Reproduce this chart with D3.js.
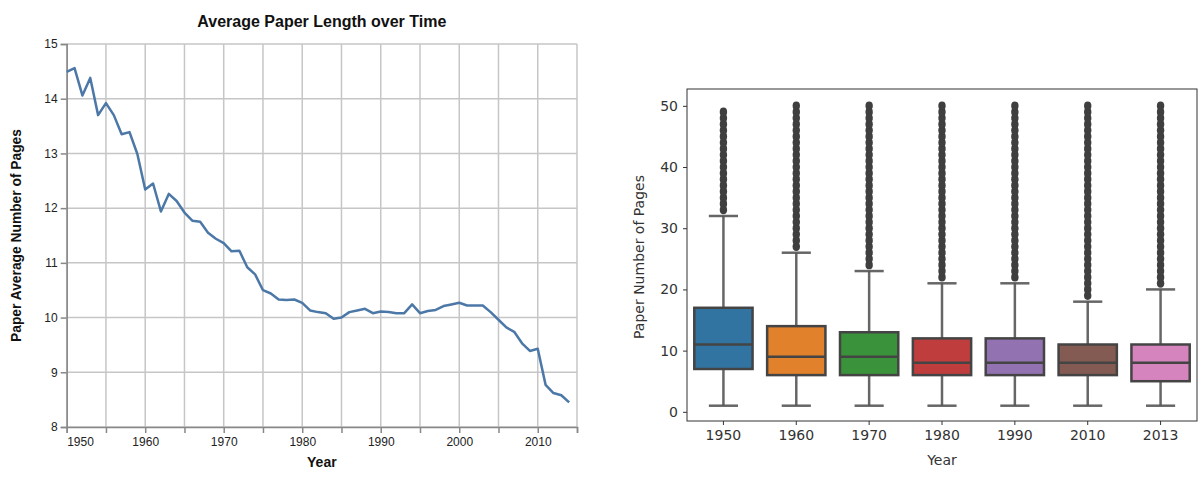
<!DOCTYPE html>
<html>
<head>
<meta charset="utf-8">
<script src="https://cdn.jsdelivr.net/npm/d3@7"></script>
<style>
  html, body { margin: 0; padding: 0; background: #fff; }
  svg { display: block; }
</style>
</head>
<body>
<svg id="chart" width="1200" height="477"></svg>
<script>
// ---------- Left chart data ----------
const years = [1950,1951,1952,1953,1954,1955,1956,1957,1958,1959,
  1960,1961,1962,1963,1964,1965,1966,1967,1968,1969,
  1970,1971,1972,1973,1974,1975,1976,1977,1978,1979,
  1980,1981,1982,1983,1984,1985,1986,1987,1988,1989,
  1990,1991,1992,1993,1994,1995,1996,1997,1998,1999,
  2000,2001,2002,2003,2004,2005,2006,2007,2008,2009,
  2010,2011,2012,2013,2014];
const avgPages = [14.49,14.56,14.06,14.38,13.70,13.92,13.70,13.35,13.39,12.99,
  12.34,12.45,11.94,12.26,12.13,11.92,11.77,11.75,11.55,11.44,
  11.36,11.21,11.22,10.92,10.79,10.50,10.44,10.33,10.32,10.33,
  10.27,10.13,10.10,10.08,9.98,10.00,10.10,10.13,10.16,10.08,
  10.11,10.10,10.08,10.08,10.24,10.08,10.12,10.14,10.21,10.24,
  10.27,10.22,10.22,10.22,10.10,9.96,9.82,9.74,9.53,9.39,
  9.43,8.77,8.62,8.58,8.45];
const xTickYears = [1950,1955,1960,1965,1970,1975,1980,1985,1990,1995,2000,2005,2010,2015];
const xLabelYears = [1950,1960,1970,1980,1990,2000,2010];
const yTicksLeft = [8,9,10,11,12,13,14,15];

// ---------- Right chart data ----------
const boxYears = ["1950","1960","1970","1980","1990","2010","2013"];
const q1 = [7,6,6,6,6,6,5];
const median = [11,9,9,8,8,8,8];
const q3 = [17,14,13,12,12,11,11];
const whiskerLo = [1,1,1,1,1,1,1];
const whiskerHi = [32,26,23,21,21,18,20];
const fliers1950 = [33,34,35,36,37,38,39,40,41,42,43,44,45,46,47,48,49];
const fliers1960 = [27,28,29,30,31,32,33,34,35,36,37,38,39,40,41,42,43,44,45,46,47,48,49,50];
const fliers1970 = [24,25,26,27,28,29,30,31,32,33,34,35,36,37,38,39,40,41,42,43,44,45,46,47,48,49,50];
const fliers1980 = [22,23,24,25,26,27,28,29,30,31,32,33,34,35,36,37,38,39,40,41,42,43,44,45,46,47,48,49,50];
const fliers1990 = [22,23,24,25,26,27,28,29,30,31,32,33,34,35,36,37,38,39,40,41,42,43,44,45,46,47,48,49,50];
const fliers2010 = [19,20,21,22,23,24,25,26,27,28,29,30,31,32,33,34,35,36,37,38,39,40,41,42,43,44,45,46,47,48,49,50];
const fliers2013 = [21,22,23,24,25,26,27,28,29,30,31,32,33,34,35,36,37,38,39,40,41,42,43,44,45,46,47,48,49,50];
const boxColors = ["#3274a1","#e1812c","#3a923a","#c03d3e","#9372b2","#845b53","#d684bd"];
const yTicksRight = [0,10,20,30,40,50];

const svg = d3.select("#chart");
svg.append("rect").attr("width",1200).attr("height",477).attr("fill","#fff");

// ================= LEFT: line chart =================
(function(){
  const L = 66.7, R = 577, T = 44, B = 427;
  const x = d3.scaleLinear().domain([1950, 2015]).range([L, R]);
  const y = d3.scaleLinear().domain([8, 15]).range([B, T]);
  const font = "'Liberation Sans', Arial, sans-serif";
  const g = svg.append("g").attr("font-family", font);

  // grid
  g.append("g").selectAll("line").data(xTickYears).join("line")
    .attr("x1", d => x(d)).attr("x2", d => x(d)).attr("y1", T).attr("y2", B)
    .attr("stroke", "#c6c6c6").attr("stroke-width", 1.5);
  g.append("g").selectAll("line").data(yTicksLeft).join("line")
    .attr("x1", L).attr("x2", R).attr("y1", d => y(d)).attr("y2", d => y(d))
    .attr("stroke", "#c6c6c6").attr("stroke-width", 1.5);

  // x axis
  const xAxis = d3.axisBottom(x).tickValues(xTickYears).tickSize(6).tickPadding(4)
    .tickFormat(d => xLabelYears.includes(d) ? String(d) : "");
  const gx = g.append("g").attr("transform", `translate(0,${B})`).call(xAxis);
  gx.select(".domain").attr("stroke", "#888").attr("stroke-width", 1.5);
  gx.selectAll(".tick line").attr("stroke", "#888").attr("stroke-width", 1.5);
  gx.selectAll(".tick text").attr("font-size", 12).attr("fill", "#222")
    .attr("font-family", font)
    .attr("text-anchor", d => d === 1950 ? "start" : "middle");

  // y axis
  const yAxis = d3.axisLeft(y).tickValues(yTicksLeft).tickSize(6).tickPadding(3).tickFormat(d3.format("d"));
  const gy = g.append("g").attr("transform", `translate(${L},0)`).call(yAxis);
  gy.select(".domain").attr("stroke", "#888").attr("stroke-width", 1.5);
  gy.selectAll(".tick line").attr("stroke", "#888").attr("stroke-width", 1.5);
  gy.selectAll(".tick text").attr("font-size", 12).attr("fill", "#222")
    .attr("font-family", font);

  // line
  const line = d3.line().x((d, i) => x(years[i])).y(d => y(d));
  g.append("path").datum(avgPages).attr("d", line)
    .attr("fill", "none").attr("stroke", "#4c78a8").attr("stroke-width", 2.5)
    .attr("stroke-linejoin", "round");

  // titles
  g.append("text").attr("x", (L + R) / 2).attr("y", 27).attr("text-anchor", "middle")
    .attr("font-size", 16).attr("font-weight", "bold").attr("fill", "#111")
    .text("Average Paper Length over Time");
  g.append("text").attr("x", (L + R) / 2).attr("y", 467).attr("text-anchor", "middle")
    .attr("font-size", 14).attr("font-weight", "bold").attr("fill", "#111").text("Year");
  g.append("text").attr("transform", `translate(21,${(T + B) / 2}) rotate(-90)`)
    .attr("text-anchor", "middle").attr("font-size", 13.8).attr("font-weight", "bold")
    .attr("fill", "#111").text("Paper Average Number of Pages");
})();

// ================= RIGHT: box plot =================
(function(){
  const L = 687, R = 1197, T = 89, B = 421;
  const x = d3.scaleBand().domain(boxYears).range([L, R]).padding(0);
  const y = d3.scaleLinear().domain([-1.5, 52.75]).range([B, T]);
  const font = "'DejaVu Sans', sans-serif";
  const g = svg.append("g").attr("font-family", font);
  const lineColor = "#3f3f3f";
  const bw = x.bandwidth() * 0.8;
  const fliers = [fliers1950, fliers1960, fliers1970, fliers1980, fliers1990, fliers2010, fliers2013];

  const boxes = boxYears.map((c, i) => ({c, i, q1: q1[i], med: median[i], q3: q3[i],
    lo: whiskerLo[i], hi: whiskerHi[i], fl: fliers[i], color: boxColors[i]}));

  const bg = g.selectAll("g.box").data(boxes).join("g").attr("class", "box");
  const cx = d => x(d.c) + x.bandwidth() / 2;
  const wColor = "#555", wOp = 0.9;
  // whiskers
  bg.append("line").attr("x1", cx).attr("x2", cx).attr("y1", d => y(d.q3)).attr("y2", d => y(d.hi))
    .attr("stroke", wColor).attr("stroke-width", 2.5).attr("stroke-opacity", wOp);
  bg.append("line").attr("x1", cx).attr("x2", cx).attr("y1", d => y(d.q1)).attr("y2", d => y(d.lo))
    .attr("stroke", wColor).attr("stroke-width", 2.5).attr("stroke-opacity", wOp);
  // caps
  bg.append("line").attr("x1", d => cx(d) - bw / 4).attr("x2", d => cx(d) + bw / 4)
    .attr("y1", d => y(d.hi)).attr("y2", d => y(d.hi))
    .attr("stroke", wColor).attr("stroke-width", 2.5).attr("stroke-opacity", wOp);
  bg.append("line").attr("x1", d => cx(d) - bw / 4).attr("x2", d => cx(d) + bw / 4)
    .attr("y1", d => y(d.lo)).attr("y2", d => y(d.lo))
    .attr("stroke", wColor).attr("stroke-width", 2.5).attr("stroke-opacity", wOp);
  // box
  bg.append("rect").attr("x", d => cx(d) - bw / 2).attr("width", bw)
    .attr("y", d => y(d.q3)).attr("height", d => y(d.q1) - y(d.q3))
    .attr("fill", d => d.color).attr("stroke", "#444").attr("stroke-width", 2.5);
  // median
  bg.append("line").attr("x1", d => cx(d) - bw / 2).attr("x2", d => cx(d) + bw / 2)
    .attr("y1", d => y(d.med)).attr("y2", d => y(d.med))
    .attr("stroke", "#444").attr("stroke-width", 2.5);
  // fliers
  bg.each(function(d){
    d3.select(this).selectAll("ellipse.fl").data(d.fl).join("ellipse").attr("class", "fl")
      .attr("cx", cx(d)).attr("cy", v => y(v)).attr("rx", 3.7).attr("ry", 4.4)
      .attr("fill", lineColor);
  });

  // spines
  g.append("rect").attr("x", L).attr("y", T).attr("width", R - L).attr("height", B - T)
    .attr("fill", "none").attr("stroke", "#333").attr("stroke-width", 1);

  // axes
  const yAxis = d3.axisLeft(y).tickValues(yTicksRight).tickSize(4).tickPadding(5).tickFormat(d3.format("d"));
  const gy = g.append("g").attr("transform", `translate(${L},0)`).call(yAxis);
  gy.select(".domain").remove();
  gy.selectAll(".tick line").attr("stroke", "#333");
  gy.selectAll(".tick text").attr("font-size", 14).attr("fill", "#333").attr("font-family", font);

  const xAxis = d3.axisBottom(x).tickSize(4).tickPadding(5);
  const gx = g.append("g").attr("transform", `translate(0,${B})`).call(xAxis);
  gx.select(".domain").remove();
  gx.selectAll(".tick line").attr("stroke", "#333");
  gx.selectAll(".tick text").attr("font-size", 14).attr("fill", "#333").attr("font-family", font);

  g.append("text").attr("x", (L + R) / 2).attr("y", 465).attr("text-anchor", "middle")
    .attr("font-size", 14).attr("fill", "#333").text("Year");
  g.append("text").attr("transform", `translate(644,${(T + B) / 2 + 2}) rotate(-90)`)
    .attr("text-anchor", "middle").attr("font-size", 14).attr("fill", "#333").text("Paper Number of Pages");
})();
</script>
</body>
</html>
